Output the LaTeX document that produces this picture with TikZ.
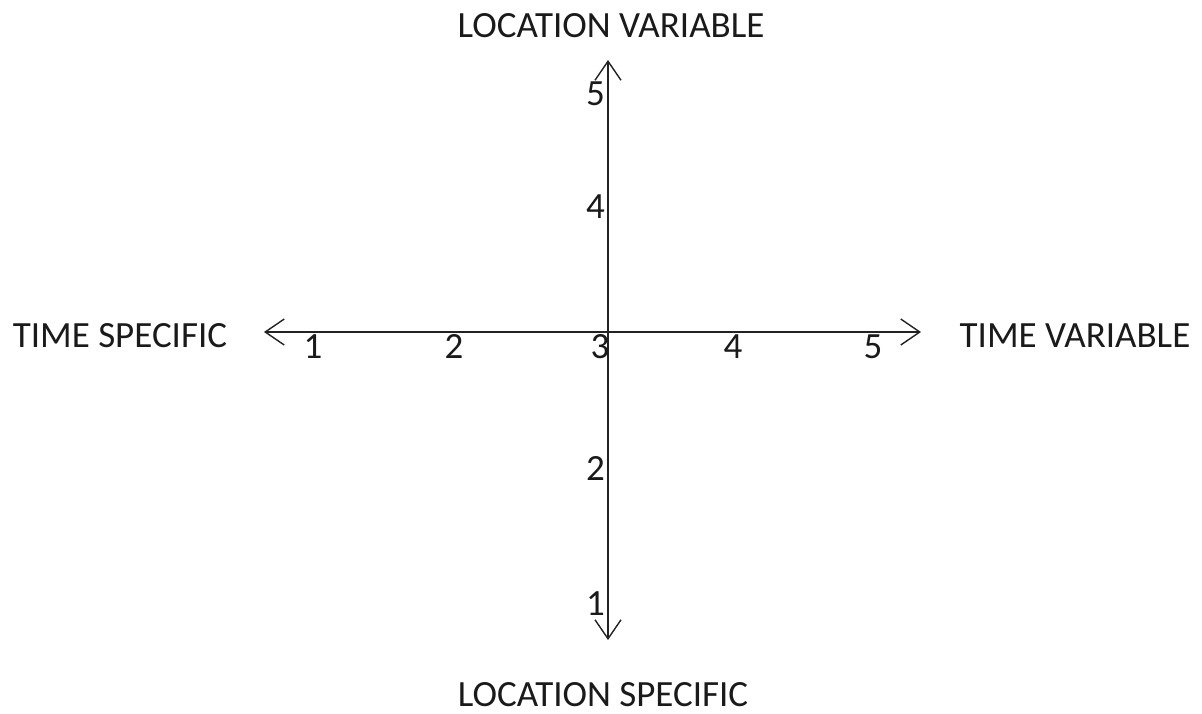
\documentclass[tikz,border=0pt]{standalone}
\usepackage{fontspec}
\setmainfont{Carlito}
\usetikzlibrary{arrows.meta}
\definecolor{Ink}{HTML}{1A1A1A}
\definecolor{AxisInk}{HTML}{222222}
\tikzset{
  axisLine/.style={AxisInk,line width=1.4pt},
  axisTitle/.style={text=Ink,inner sep=0pt,anchor=base,font=\fontsize{37}{44}\selectfont},
  tickLabel/.style={text=Ink,inner sep=0pt,font=\fontsize{37}{44}\selectfont}
}

\begin{document}
\begin{tikzpicture}[x=1pt,y=-1pt,>={Straight Barb[length=19pt,width=26pt]}]
  \useasboundingbox (0,0) rectangle (1202,713);

  % Axis end points.
  \coordinate (xLeft) at (264,332);
  \coordinate (xRight) at (921,332);
  \coordinate (yTop) at (608,60);
  \coordinate (yBottom) at (608,640);

  % Axes.
  \draw[axisLine,<->] (xLeft) -- (xRight);
  \draw[axisLine,<->] (yBottom) -- (yTop);

  % Axis titles.
  \node[axisTitle] (locVar) at (611,37) {LOCATION VARIABLE};
  \node[axisTitle] (locSpec) at (603,706) {LOCATION SPECIFIC};
  \node[axisTitle] (timeSpec) at (120,347) {TIME SPECIFIC};
  \node[axisTitle] (timeVar) at (1075,347) {TIME VARIABLE};

  % Scale values.
  \foreach \n/\x in {1/313,2/454,3/600,4/733,5/873}
    \node[tickLabel,anchor=base] (tx\n) at (\x,358) {\n};
  \foreach \n/\y in {1/615,2/480,4/218,5/105}
    \node[tickLabel,anchor=base east] (ty\n) at (605,\y) {\n};
\end{tikzpicture}
\end{document}
